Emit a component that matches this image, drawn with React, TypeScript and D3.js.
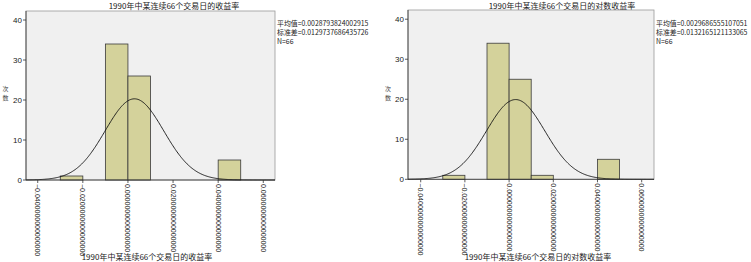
import React from "react";
import * as d3 from "d3";

// ---- data ----
const binStarts = [-0.03, -0.02, -0.01, 0.0, 0.01, 0.02, 0.03, 0.04];
const countsReturn = [1, 0, 34, 26, 0, 0, 0, 5];
const countsLogReturn = [1, 0, 34, 25, 1, 0, 0, 5];
const binWidth = 0.01;
const xTicks = [-0.04, -0.02, 0.0, 0.02, 0.04, 0.06];
const yTicks = [0, 10, 20, 30, 40];
const titles = ["1990年中某连续66个交易日的收益率", "1990年中某连续66个交易日的对数收益率"];
const yAxisLabelChars = ["次", "数"];
const meanTexts = ["0.0028793824002915", "0.0029686555107051"];
const sdTexts = ["0.0129737686435726", "0.0132165121133065"];
const means = [0.0028793824002915, 0.0029686555107051];
const sds = [0.0129737686435726, 0.0132165121133065];
const nObs = [66, 66];

const FONT = "'Liberation Sans', Arial, sans-serif";
const CJK = "'Noto Sans CJK SC', sans-serif";

type Panel = {
  left: number; right: number; top: number; zeroY: number;
  xMin: number; xMax: number; yMax: number;
  titleX: number; axisTitleX: number; statX: number; yLabelX: number;
  counts: number[]; idx: number;
};

const panels: Panel[] = [
  { left: 26, right: 275, top: 11, zeroY: 180, xMin: -0.0452, xMax: 0.0652, yMax: 42.25,
    titleX: 174, axisTitleX: 147, statX: 277, yLabelX: 5.5, counts: countsReturn, idx: 0 },
  { left: 408, right: 654, top: 10, zeroY: 179.3, xMin: -0.04575, xMax: 0.06557, yMax: 42.3,
    titleX: 562, axisTitleX: 538, statX: 656, yLabelX: 388, counts: countsLogReturn, idx: 1 },
];

function HistPanel({ p }: { p: Panel }) {
  const x = d3.scaleLinear().domain([p.xMin, p.xMax]).range([p.left, p.right]);
  const y = d3.scaleLinear().domain([0, p.yMax]).range([p.zeroY, p.top]);
  const mu = means[p.idx], sd = sds[p.idx], n = nObs[p.idx];
  const pdf = (v: number) => Math.exp(-0.5 * ((v - mu) / sd) ** 2) / (sd * Math.sqrt(2 * Math.PI));
  const pts = d3.range(0, 301).map((i) => p.xMin + ((p.xMax - p.xMin) * i) / 300);
  const line = d3.line<number>().x((v) => x(v)).y((v) => y(n * binWidth * pdf(v)));
  const fmt = d3.format(".16f");
  return (
    <g>
      <text x={p.titleX} y={9} textAnchor="middle" fontSize={8} fontFamily={CJK} fill="#222">{titles[p.idx]}</text>
      <rect x={p.left} y={p.top} width={p.right - p.left} height={p.zeroY - p.top} fill="#f0f0f0" stroke="#999" strokeWidth={0.8} />
      {binStarts.map((b, i) =>
        p.counts[i] > 0 ? (
          <rect key={i} x={x(b)} y={y(p.counts[i])} width={x(b + binWidth) - x(b)} height={y(0) - y(p.counts[i])}
            fill="#d4d29b" stroke="#3a3a3a" strokeWidth={0.8} />
        ) : null
      )}
      <path d={line(pts) || ""} fill="none" stroke="#111" strokeWidth={0.9} />
      <line x1={p.left} x2={p.left} y1={p.top} y2={p.zeroY} stroke="#333" strokeWidth={0.8} />
      <line x1={p.left} x2={p.right} y1={p.zeroY} y2={p.zeroY} stroke="#333" strokeWidth={0.8} />
      {yTicks.map((t) => (
        <g key={t}>
          <line x1={p.left - 3} x2={p.left} y1={y(t)} y2={y(t)} stroke="#333" strokeWidth={0.8} />
          <text x={p.left - 4} y={y(t)} dy="0.35em" textAnchor="end" fontSize={8} fontFamily={FONT} fill="#222">{t}</text>
        </g>
      ))}
      {xTicks.map((t) => (
        <g key={t}>
          <line x1={x(t)} x2={x(t)} y1={p.zeroY} y2={p.zeroY + 3} stroke="#333" strokeWidth={0.8} />
          <text transform={`translate(${x(t)},${p.zeroY + 4}) rotate(90)`} dy="0.35em" textAnchor="start"
            fontSize={7} fontFamily={FONT} fill="#222">{fmt(t)}</text>
        </g>
      ))}
      {yAxisLabelChars.map((c, i) => (
        <text key={i} x={p.yLabelX} y={91 + i * 9} textAnchor="middle" fontSize={6} fontFamily={CJK} fill="#444">{c}</text>
      ))}
      <g fontSize={6.9} fontFamily={CJK} fill="#222">
        <text x={p.statX} y={26}>平均值={meanTexts[p.idx]}</text>
        <text x={p.statX} y={35}>标准差={sdTexts[p.idx]}</text>
        <text x={p.statX} y={44}>N={n}</text>
      </g>
      <text x={p.axisTitleX} y={260} textAnchor="middle" fontSize={8} fontFamily={CJK} fill="#222">{titles[p.idx]}</text>
    </g>
  );
}

export default function App() {
  return (
    <svg width={751} height={262} style={{ position: "absolute", left: 0, top: 0, background: "#fff" }}>
      {panels.map((p) => (
        <HistPanel key={p.idx} p={p} />
      ))}
    </svg>
  );
}
